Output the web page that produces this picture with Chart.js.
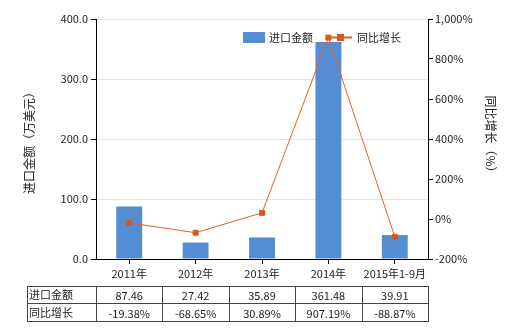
<!DOCTYPE html>
<html>
<head>
<meta charset="utf-8">
<script src="https://cdn.jsdelivr.net/npm/chart.js@4"></script>
<style>
  html, body { margin: 0; padding: 0; background: #fff; }
  #wrap { width: 520px; height: 330px; }
</style>
</head>
<body>
<div id="wrap"><canvas id="myChart" width="520" height="330"></canvas></div>
<script>
// data
var categories = ['2011年', '2012年', '2013年', '2014年', '2015年1-9月'];
var importValues = [87.46, 27.42, 35.89, 361.48, 39.91];
var growthValues = [-19.38, -68.65, 30.89, 907.19, -88.87];
var importLabels = ['87.46', '27.42', '35.89', '361.48', '39.91'];
var growthLabels = ['-19.38%', '-68.65%', '30.89%', '907.19%', '-88.87%'];
var seriesNames = ['进口金额', '同比增长'];

var barColor = '#558DD5';
var lineColor = '#E2621F';
var markColor = '#D9541E';
var fontFamily = '"Noto Sans CJK SC", "Liberation Sans", sans-serif';

// draws the axis titles, legend and the data table under the chart
var extras = {
  id: 'extras',
  afterDraw: function(chart) {
    var c = chart.ctx;
    var xs = chart.scales.x;
    c.save();
    c.fillStyle = '#222';
    c.font = '12px ' + fontFamily;
    c.textAlign = 'center';
    c.textBaseline = 'middle';

    // left title
    c.save();
    c.translate(29, 140);
    c.rotate(-Math.PI / 2);
    c.fillText('进口金额（万美元）', 0, 0);
    c.restore();

    // right title
    c.save();
    c.translate(491, 137);
    c.rotate(Math.PI / 2);
    c.fillText('同比增长（%）', 0, 0);
    c.restore();

    // legend
    c.font = '11px ' + fontFamily;
    c.textAlign = 'left';
    c.fillStyle = barColor;
    c.fillRect(243, 32, 22, 11);
    c.fillStyle = '#222';
    c.fillText(seriesNames[0], 269, 38);
    c.strokeStyle = lineColor;
    c.lineWidth = 2;
    c.beginPath();
    c.moveTo(327, 37.5);
    c.lineTo(352, 37.5);
    c.stroke();
    c.fillStyle = markColor;
    c.fillRect(337, 34, 7, 7);
    c.fillStyle = '#222';
    c.fillText(seriesNames[1], 357, 38);

    // table
    var n = categories.length;
    var cw = (xs.right - xs.left) / n;
    var left = 27, rows = [286, 303, 321];
    c.strokeStyle = '#444';
    c.lineWidth = 1;
    c.beginPath();
    rows.forEach(function(y) {
      c.moveTo(left, y + 0.5);
      c.lineTo(Math.round(xs.right) + 0.5, y + 0.5);
    });
    var cols = [left, xs.left];
    for (var i = 0; i < n; i++) cols.push(xs.getPixelForValue(i) + cw / 2);
    cols.forEach(function(x) {
      var px = Math.round(x) + 0.5;
      c.moveTo(px, rows[0]);
      c.lineTo(px, rows[2] + 1);
    });
    c.stroke();

    c.fillStyle = '#222';
    c.textAlign = 'left';
    c.fillText(seriesNames[0], left + 2, 295);
    c.fillText(seriesNames[1], left + 2, 313);
    c.textAlign = 'center';
    for (var j = 0; j < n; j++) {
      var cx = xs.getPixelForValue(j);
      c.fillText(importLabels[j], cx, 296);
      c.fillText(growthLabels[j], cx, 314);
    }
    c.restore();
  }
};

var ctx = document.getElementById('myChart');
new Chart(ctx, {
  type: 'bar',
  data: {
    labels: categories,
    datasets: [{
      type: 'line',
      label: seriesNames[1],
      data: growthValues,
      yAxisID: 'y1',
      borderColor: lineColor,
      borderWidth: 1,
      pointStyle: 'rect',
      pointRadius: 3.5,
      pointBackgroundColor: markColor,
      pointBorderColor: markColor,
      tension: 0,
      order: 0
    }, {
      label: seriesNames[0],
      data: importValues,
      yAxisID: 'y',
      backgroundColor: barColor,
      barPercentage: 0.78,
      categoryPercentage: 0.5,
      order: 1
    }]
  },
  options: {
    responsive: false,
    animation: false,
    devicePixelRatio: 1,
    layout: { padding: { top: 19, left: 0, right: 0, bottom: 0 } },
    plugins: {
      legend: { display: false },
      tooltip: { enabled: false }
    },
    scales: {
      x: {
        afterFit: function(s) { s.height = 71; },
        grid: { offset: false, drawOnChartArea: false, tickLength: 5, color: '#000' },
        border: { color: '#000', width: 1 },
        ticks: { color: '#222', padding: 3, font: { family: fontFamily, size: 11 }, maxRotation: 0 }
      },
      y: {
        position: 'left',
        min: 0,
        max: 400,
        afterFit: function(s) { s.width = 96; },
        grid: { color: '#DCE8E8', tickColor: '#000', tickLength: 5 },
        border: { color: '#000', width: 1 },
        ticks: {
          stepSize: 100,
          color: '#222',
          padding: 3,
          font: { family: fontFamily, size: 11 },
          callback: function(v) { return v.toFixed(1); }
        }
      },
      y1: {
        position: 'right',
        min: -200,
        max: 1000,
        afterFit: function(s) { s.width = 92; },
        grid: { drawOnChartArea: false, tickColor: '#000', tickLength: 5 },
        border: { color: '#000', width: 1 },
        ticks: {
          stepSize: 200,
          color: '#222',
          padding: 2,
          font: { family: fontFamily, size: 11 },
          callback: function(v) { return v.toLocaleString('en-US') + '%'; }
        }
      }
    }
  },
  plugins: [extras]
});
</script>
</body>
</html>
